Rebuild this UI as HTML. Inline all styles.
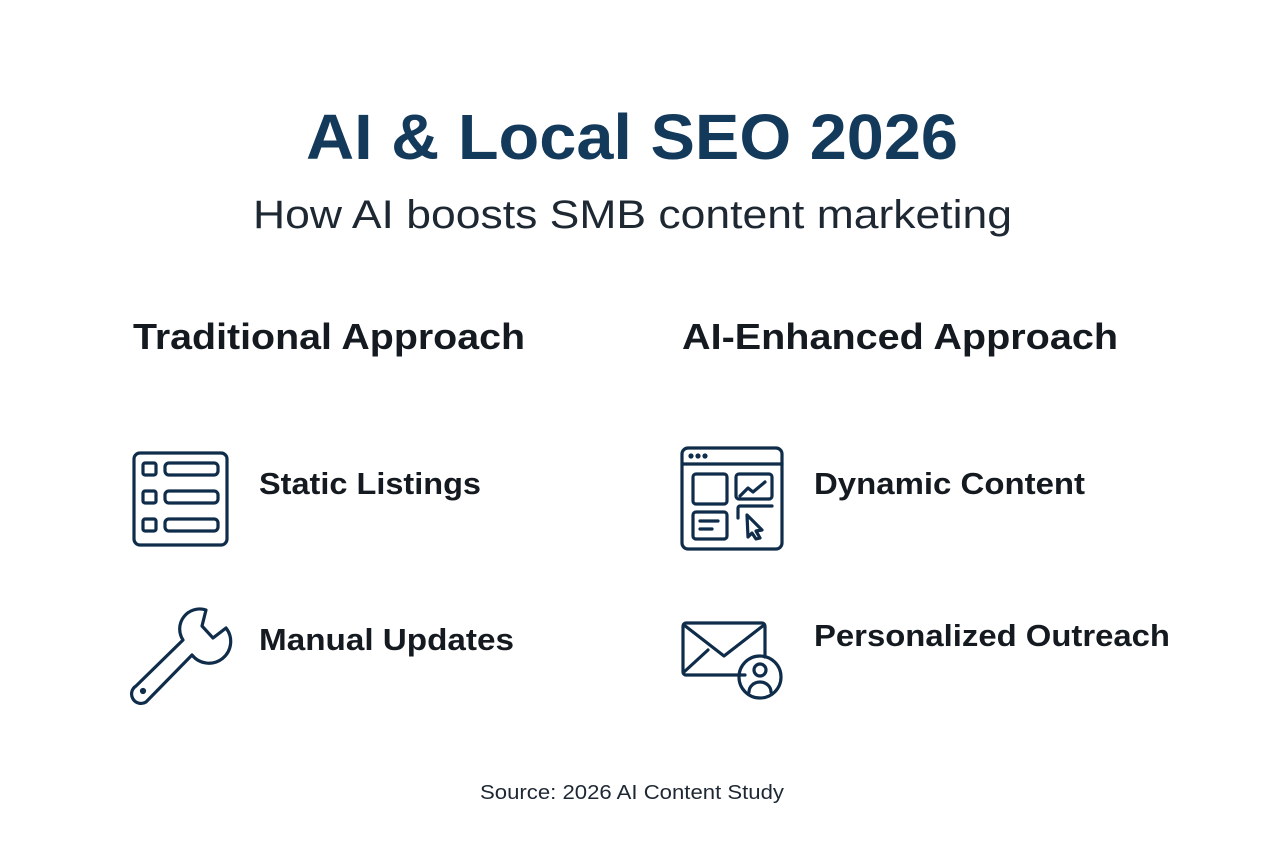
<!DOCTYPE html>
<html><head><meta charset="utf-8"><style>
html,body{margin:0;padding:0;background:#fff;}
svg{display:block;}
text{font-family:"Liberation Sans",sans-serif;}
</style></head><body>
<svg width="1264" height="848" viewBox="0 0 1264 848" xmlns="http://www.w3.org/2000/svg">
<rect width="1264" height="848" fill="#fff"/>
<text x="306" y="159" font-size="64" font-weight="bold" fill="#13395b" textLength="652" lengthAdjust="spacingAndGlyphs">AI &amp; Local SEO 2026</text>
<text x="253" y="228" font-size="40" fill="#1e2833" textLength="759" lengthAdjust="spacingAndGlyphs">How AI boosts SMB content marketing</text>
<text x="133" y="349" font-size="36" font-weight="bold" fill="#141a20" textLength="392" lengthAdjust="spacingAndGlyphs">Traditional Approach</text>
<text x="682" y="349" font-size="36" font-weight="bold" fill="#141a20" textLength="436" lengthAdjust="spacingAndGlyphs">AI-Enhanced Approach</text>
<text x="259" y="494" font-size="31" font-weight="bold" fill="#141a20" textLength="222" lengthAdjust="spacingAndGlyphs">Static Listings</text>
<text x="259" y="650" font-size="31" font-weight="bold" fill="#141a20" textLength="255" lengthAdjust="spacingAndGlyphs">Manual Updates</text>
<text x="814" y="494" font-size="31" font-weight="bold" fill="#141a20" textLength="271" lengthAdjust="spacingAndGlyphs">Dynamic Content</text>
<text x="814" y="646" font-size="31" font-weight="bold" fill="#141a20" textLength="356" lengthAdjust="spacingAndGlyphs">Personalized Outreach</text>
<text x="480" y="799" font-size="20" fill="#1e2833" textLength="304" lengthAdjust="spacingAndGlyphs">Source: 2026 AI Content Study</text>
<g fill="none" stroke="#0f2d4a" stroke-width="3.2" stroke-linecap="round" stroke-linejoin="round">
 <!-- list icon -->
 <rect x="134" y="453" width="93" height="92" rx="6"/>
 <rect x="143" y="463" width="13" height="12" rx="2"/>
 <rect x="165" y="463" width="53" height="12" rx="4"/>
 <rect x="143" y="491" width="13" height="12" rx="2"/>
 <rect x="165" y="491" width="53" height="12" rx="4"/>
 <rect x="143" y="519" width="13" height="12" rx="2"/>
 <rect x="165" y="519" width="53" height="12" rx="4"/>
 <!-- wrench -->
 <path d="M206 610 A20 20 0 0 0 183 640 L136 686 A6 6 0 0 0 146 702 L192 655 A20 20 0 0 0 226 628 L213 638 L202 626 Z"/>
 <circle cx="143" cy="691" r="1.5" fill="#0f2d4a"/>
 <!-- browser -->
 <rect x="682" y="448" width="100" height="101" rx="6"/>
 <line x1="682" y1="464" x2="782" y2="464"/>
 <circle cx="691" cy="456" r="1" fill="#0f2d4a"/><circle cx="698" cy="456" r="1" fill="#0f2d4a"/><circle cx="705" cy="456" r="1" fill="#0f2d4a"/>
 <rect x="693" y="474" width="34" height="30" rx="3"/>
 <rect x="736" y="474" width="36" height="25" rx="3"/>
 <path d="M740 496 L748 488 L753 492 L765 482"/>
 <rect x="693" y="512" width="34" height="27" rx="3"/>
 <line x1="700" y1="521" x2="718" y2="521"/><line x1="700" y1="529" x2="712" y2="529"/>
 <path d="M738 518 V508 A2 2 0 0 1 740 506 H772"/>
 <path d="M747 515 L762 530 L756 531 L760 538 L756 539 L752 533 L748 537 Z"/>
 <!-- mail -->
 <path d="M745 675 H686 A3 3 0 0 1 683 672 V626 A3 3 0 0 1 686 623 H762 A3 3 0 0 1 765 626 V657"/>
 <path d="M684 625 L724 656 L764 625"/>
 <line x1="684" y1="672" x2="708" y2="650"/>
 <circle cx="760" cy="677" r="21"/>
 <circle cx="760" cy="670" r="6"/>
 <path d="M749 692 A11 10 0 0 1 771 692"/>
</g>
</svg>
</body></html>
